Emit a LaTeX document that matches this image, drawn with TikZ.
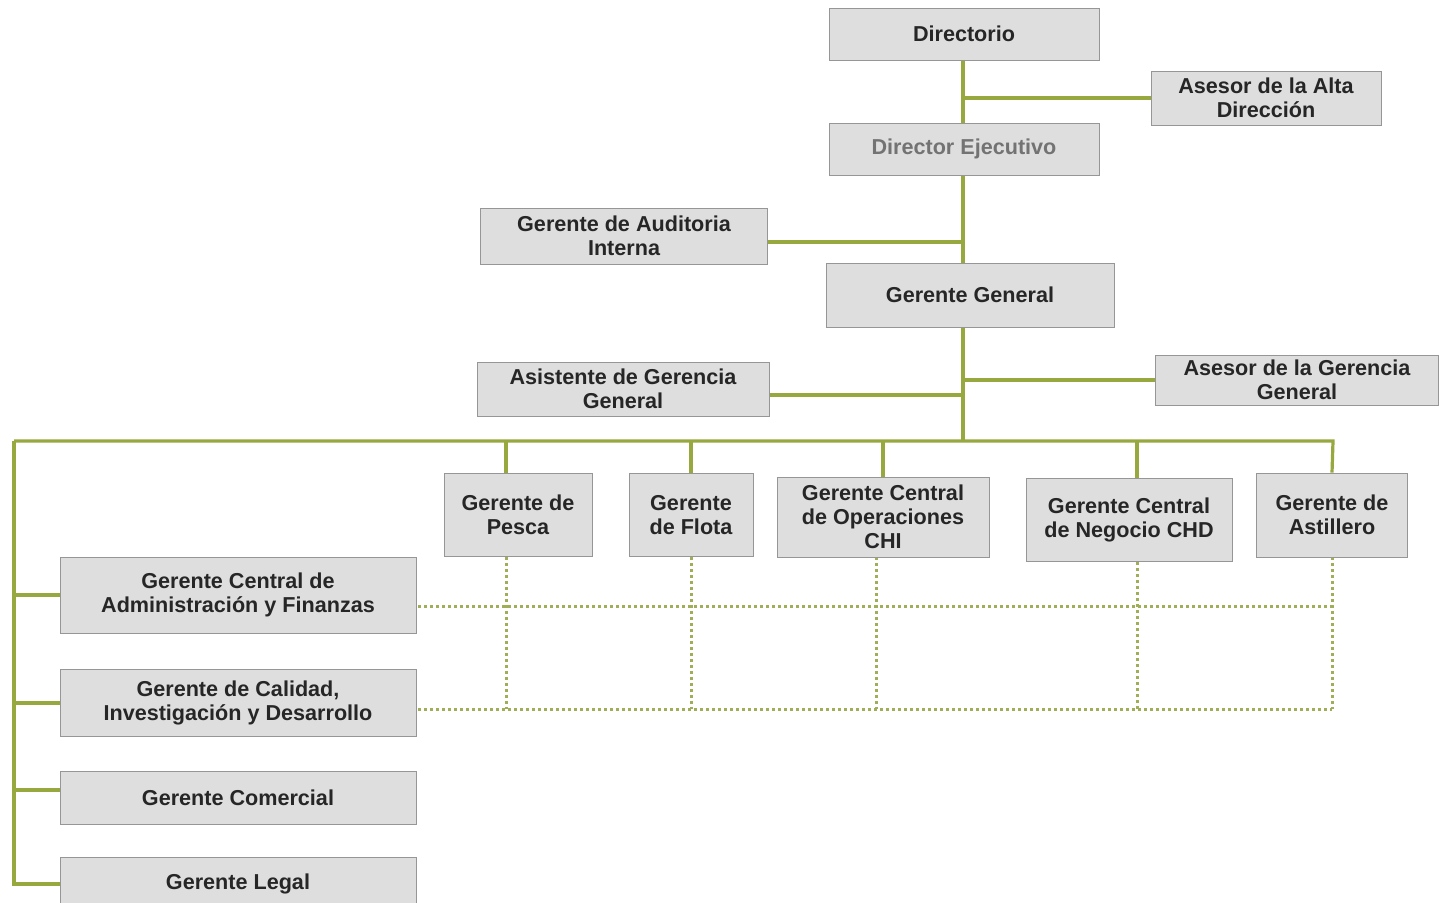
\documentclass[tikz,border=0pt]{standalone}
\usepackage{fontspec}
\setmainfont{Liberation Sans}
\usetikzlibrary{backgrounds}

\definecolor{lineagreen}{RGB}{150,168,62}
\definecolor{dotgreen}{RGB}{160,174,88}
\definecolor{boxgray}{RGB}{222,222,222}
\definecolor{edgegray}{RGB}{150,150,150}

\begin{document}
\begin{tikzpicture}
[
	x=0.5pt,
	y=-0.5pt,
	orgbox/.style={draw=edgegray,fill=boxgray,inner sep=0pt,align=center,text=black!85,
		font=\bfseries\fontsize{10.8}{12}\selectfont},
	orgline/.style={lineagreen,line width=1.6pt},
	dotline/.style={dotgreen,line width=1.5pt,dash pattern=on 1.4pt off 1.6pt},
]
	\useasboundingbox (0,0) rectangle (1439,903);

	% top of the chart
	\node[orgbox,minimum width=135pt,minimum height=26pt] at (964,34) (dir) {Directorio};
	\node[orgbox,minimum width=115pt,minimum height=27pt] at (1266,98) (asesoralta) {Asesor de la Alta\\Dirección};
	\node[orgbox,minimum width=135pt,minimum height=26pt,text=black!55] at (964,149) (eje) {Director Ejecutivo};
	\node[orgbox,minimum width=143.5pt,minimum height=28pt] at (624,236) (aud) {Gerente de Auditoria\\Interna};
	\node[orgbox,minimum width=144pt,minimum height=32pt] at (970,295) (gg) {Gerente General};
	\node[orgbox,minimum width=146pt,minimum height=27pt] at (623,389) (asis) {Asistente de Gerencia\\General};
	\node[orgbox,minimum width=141.5pt,minimum height=25pt] at (1297,380) (asesorgg) {Asesor de la Gerencia\\General};

	% second row
	\node[orgbox,minimum width=74pt,minimum height=41.5pt] at (518,515) (pesca) {Gerente de\\Pesca};
	\node[orgbox,minimum width=62pt,minimum height=41.5pt] at (691,515) (flota) {Gerente\\de Flota};
	\node[orgbox,minimum width=106pt,minimum height=40pt] at (883,517) (chi) {Gerente Central\\de Operaciones\\CHI};
	\node[orgbox,minimum width=103pt,minimum height=41.5pt] at (1129,520) (chd) {Gerente Central\\de Negocio CHD};
	\node[orgbox,minimum width=75.5pt,minimum height=42pt] at (1332,515) (ast) {Gerente de\\Astillero};

	% left column
	\node[orgbox,minimum width=178pt,minimum height=38pt] at (238,595) (admin) {Gerente Central de\\Administración y Finanzas};
	\node[orgbox,minimum width=178pt,minimum height=33.5pt] at (238,703) (cal) {Gerente de Calidad,\\Investigación y Desarrollo};
	\node[orgbox,minimum width=178pt,minimum height=26.5pt] at (238,798) (com) {Gerente Comercial};
	\node[orgbox,minimum width=178pt,minimum height=27pt] at (238,884) (legal) {Gerente Legal};

	\coordinate (busl) at (14,441);
	\coordinate (busr) at (1333,441);
	\coordinate (spine) at (963,441);
	\coordinate (dadmin) at (418,606);
	\coordinate (dcal) at (418,709);
	\coordinate (pescaline) at (506,441);
	\coordinate (chdline) at (1137,441);
	\coordinate (chiline) at (876,709);

	\begin{scope}[on background layer]
		% solid lines
		\draw[orgline] (dir.south -| spine) -- (spine);
		\draw[orgline] (asesoralta.west) -- (asesoralta.west -| spine);
		\draw[orgline] ([yshift=-3pt]aud.east) -- ([yshift=-3pt]aud.east -| spine);
		\draw[orgline] ([yshift=-3pt]asis.east) -- ([yshift=-3pt]asis.east -| spine);
		\draw[orgline] (asesorgg.west) -- (asesorgg.west -| spine);
		\draw[orgline] (busl) -- (busr) -- (ast.north);
		\draw[orgline] (pescaline) -- (pescaline |- pesca.north);
		\draw[orgline] (flota.north) -- (flota.north |- busl);
		\draw[orgline] (chi.north) -- (chi.north |- busl);
		\draw[orgline] (chdline) -- (chdline |- chd.north);
		\draw[orgline] (busl) -- (busl |- legal.west) -- (legal.west);
		\draw[orgline] (admin.west -| busl) -- (admin.west);
		\draw[orgline] (cal.west -| busl) -- (cal.west);
		\draw[orgline] ([yshift=4pt]com.west -| busl) -- ([yshift=4pt]com.west);

		% dotted lines
		\draw[dotline] (dadmin) -- (dadmin -| ast);
		\draw[dotline] (dcal) -- (dcal -| ast);
		\draw[dotline] (pescaline |- pesca.south) -- (pescaline |- dcal);
		\draw[dotline] (flota.south) -- (flota.south |- dcal);
		\draw[dotline] (chiline |- chi.south) -- (chiline);
		\draw[dotline] (chdline |- chd.south) -- (chdline |- dcal);
		\draw[dotline] (ast.south) -- (ast.south |- dcal);
	\end{scope}

\end{tikzpicture}
\end{document}
